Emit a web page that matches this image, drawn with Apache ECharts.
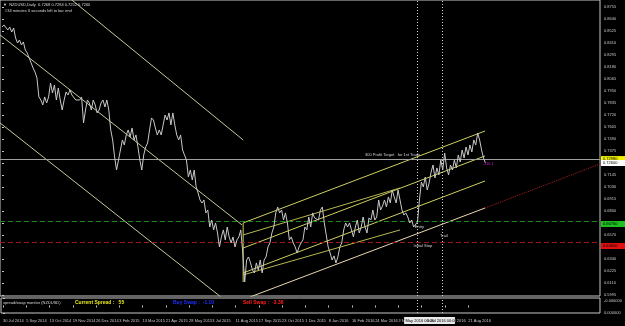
<!DOCTYPE html>
<html><head><meta charset="utf-8">
<script src="https://cdn.jsdelivr.net/npm/echarts@6/dist/echarts.min.js"></script>
<style>html,body{margin:0;padding:0;background:#000;overflow:hidden}#c{width:625px;height:326px}</style>
</head><body><div id="c"></div>
<script>
// ---- data ----
const tickLabels = ["30 Jul 2014","5 Sep 2014","13 Oct 2014","19 Nov 2014","26 Dec 2014","3 Feb 2015","13 Mar 2015","21 Apr 2015","28 May 2015","3 Jul 2015","11 Aug 2015","17 Sep 2015","23 Oct 2015","1 Dec 2015","8 Jan 2016","16 Feb 2016","24 Mar 2016","3 May 2016","9 Jun 2016","15 Jul 2016","21 Aug 2016"];
const closes = [
0.8563,0.8583,0.8583,0.8535,0.8563,0.8515,0.8554,0.8458,0.8410,0.8439,
0.8391,0.8420,0.8343,0.8314,0.8266,0.8219,0.8171,0.8132,0.8075,0.7893,
0.7864,0.7816,0.7893,0.7835,0.7893,0.8027,0.7931,0.8008,0.7864,0.7979,
0.7864,0.7768,0.7864,0.7941,0.7912,0.7960,0.7912,0.7931,0.7864,0.7883,
0.7864,0.7893,0.7644,0.7768,0.7864,0.7835,0.7768,0.7864,0.7816,0.7740,
0.7768,0.7835,0.7864,0.7797,0.7864,0.7768,0.7577,0.7481,0.7318,0.7193,
0.7289,0.7385,0.7481,0.7433,0.7529,0.7577,0.7510,0.7596,0.7481,0.7529,
0.7414,0.7289,0.7193,0.7337,0.7414,0.7452,0.7577,0.7692,0.7672,0.7596,
0.7529,0.7577,0.7529,0.7625,0.7720,0.7672,0.7740,0.7625,0.7740,0.7625,
0.7529,0.7481,0.7529,0.7385,0.7337,0.7289,0.7126,0.7193,0.7098,0.7193,
0.7031,0.6973,0.6906,0.6877,0.6906,0.6782,0.6810,0.6647,0.6714,0.6619,
0.6686,0.6590,0.6456,0.6552,0.6619,0.6523,0.6647,0.6552,0.6494,0.6552,
0.6456,0.6523,0.6552,0.6619,0.6398,0.6120,0.6331,0.6360,0.6303,0.6235,
0.6207,0.6303,0.6235,0.6331,0.6207,0.6331,0.6360,0.6456,0.6494,0.6590,
0.6647,0.6782,0.6839,0.6782,0.6810,0.6714,0.6782,0.6686,0.6523,0.6552,
0.6494,0.6456,0.6398,0.6456,0.6494,0.6523,0.6647,0.6619,0.6743,0.6647,
0.6782,0.6734,0.6743,0.6714,0.6810,0.6839,0.6686,0.6571,0.6456,0.6398,
0.6331,0.6370,0.6303,0.6360,0.6456,0.6494,0.6619,0.6686,0.6647,0.6686,
0.6619,0.6552,0.6647,0.6714,0.6590,0.6647,0.6743,0.6647,0.6590,0.6734,
0.6714,0.6810,0.6714,0.6743,0.6906,0.6810,0.6849,0.6906,0.6839,0.6935,
0.6877,0.7002,0.6935,0.6877,0.7002,0.6906,0.6810,0.6762,0.6782,0.6743,
0.6686,0.6714,0.6647,0.6638,0.6695,0.6906,0.7078,0.7031,0.7126,0.7002,
0.7069,0.7174,0.7241,0.7117,0.7213,0.7146,0.7289,0.7193,0.7356,0.7213,
0.7146,0.7241,0.7193,0.7289,0.7213,0.7337,0.7270,0.7385,0.7308,0.7414,
0.7337,0.7433,0.7366,0.7481,0.7433,0.7548,0.7481,0.7385,0.7308,0.7261];
const priceTicks = [0.8755,0.8640,0.8525,0.8410,0.8295,0.8180,0.8065,0.7950,0.7835,0.7720,0.7605,0.7490,0.7375,0.7260,0.7145,0.7030,0.6915,0.6800,0.6685,0.6570,0.6455,0.6340,0.6225,0.6110,0.5995];
const levels = {target:0.7298, bid:0.7260, entry:0.6676, stop:0.6465};
const vLines = [213.8, 226.6];
const vLineLabels = ["27 May 2016 00:00","6 Jul 2016 00:00"];
// trend line endpoints [barIndex, price]
const lineA = [[-1,0.8487],[123.6,0.6667]];
const lineB = [[29.8,0.8916],[124.2,0.7481]];
const lineC = [[-1,0.7644],[113.4,0.5967]];
const chanU = [[124.2,0.6686],[248.8,0.7567]];
const chanM = [[124.2,0.6446],[248.8,0.7328]];
const chanL = [[124.2,0.6207],[248.8,0.7088]];
const innerU = [[124.2,0.6571],[205,0.7021]];
const innerL = [[124.2,0.6188],[205,0.6619]];
const chanEdge = [[124.2,0.6686],[124.2,0.6120]];
const trail = [[127.8,0.5977],[248.8,0.6829]];
const trailExt = [[248.8,0.6829],[308,0.7251]];

// ---- chart ----
const X_MIN = -1.03, X_MAX = 308.0;
const Y_MIN = 0.5986, Y_MAX = 0.8822;
const STEP = 12;
const F = 'Liberation Sans, Arial, sans-serif';
const tickIdx = tickLabels.map((_, i) => i * STEP);
const chart = echarts.init(document.getElementById('c'));
function seg(d, color, type) {
  return {type:'line', data:d, symbol:'none', silent:true,
    lineStyle:{color:color, width:1, type:type||'solid'}, clip:true, z:3};
}
const option = {
  backgroundColor:'#000',
  animation:false,
  grid:[
    {left:0, right:25, top:0, height:296, show:true, borderColor:'#c8c8c8', borderWidth:1},
    {left:0, right:25, top:298, height:15, show:true, borderColor:'#c8c8c8', borderWidth:1}
  ],
  xAxis:[
    {type:'value', gridIndex:0, min:X_MIN, max:X_MAX, axisLine:{show:false}, axisTick:{show:false}, axisLabel:{show:false}, splitLine:{show:false}},
    {type:'value', gridIndex:1, min:X_MIN, max:X_MAX, axisLine:{show:false}, splitLine:{show:false},
      axisTick:{show:true, length:2, lineStyle:{color:'#c8c8c8'}, customValues:tickIdx},
      axisLabel:{show:true, customValues:tickIdx, formatter:v=>tickLabels[Math.round(v/STEP)]||'', color:'#c8c8c8', fontSize:4, fontFamily:F, align:'left', margin:6}}
  ],
  yAxis:[
    {type:'value', gridIndex:0, position:'right', min:Y_MIN, max:Y_MAX, splitLine:{show:false},
      axisLine:{show:false},
      axisTick:{show:true, length:2, customValues:priceTicks, lineStyle:{color:'#c8c8c8'}},
      axisLabel:{customValues:priceTicks, formatter:v=>v.toFixed(4), color:'#c8c8c8', fontSize:4, fontFamily:F, margin:4}},
    {type:'value', gridIndex:1, position:'right', min:-1, max:1, splitLine:{show:false}, axisLine:{show:false},
      axisTick:{show:true, length:2, customValues:[1,-1], lineStyle:{color:'#c8c8c8'}},
      axisLabel:{customValues:[0.6,-1], formatter:v=>v>0?'-0.000000':'0.000000', color:'#c8c8c8', fontSize:4, fontFamily:F, margin:4}}
  ],
  series:[
    seg(lineA,'#c8c89a'), seg(lineB,'#c8c89a'), seg(lineC,'#c8c89a'),
    seg(chanU,'#d0d060'), seg(chanM,'#d0d060'), seg(chanL,'#d0d060'),
    seg(innerU,'#b8b850'), seg(innerL,'#b8b850'), seg(chanEdge,'#d0d060'),
    seg(trail,'#e8d8b0'), seg(trailExt,'#b02020','dotted'),
    {type:'line', name:'NZDUSD', data:closes.map((p,i)=>[i,p]), symbol:'none', silent:true,
      lineStyle:{color:'#c8c8c8', width:1}, z:5,
      markLine:{symbol:'none', silent:true, label:{show:false}, data:[
        {yAxis:levels.target, lineStyle:{color:'#c8c8c8', type:[5,3], width:1}},
        {yAxis:levels.bid, lineStyle:{color:'#a0a0a0', type:'solid', width:1}},
        {yAxis:levels.entry, lineStyle:{color:'#1c8a1c', type:[5,3], width:1}},
        {yAxis:levels.stop, lineStyle:{color:'#a01818', type:[5,3], width:1}},
        {xAxis:vLines[0], lineStyle:{color:'#d0d0d0', type:[1,2], width:1}},
        {xAxis:vLines[1], lineStyle:{color:'#d0d0d0', type:[1,2], width:1}}
      ]}},
    {type:'line', xAxisIndex:1, yAxisIndex:1, data:[], symbol:'none',
      markLine:{symbol:'none', silent:true, label:{show:false}, data:[
        {xAxis:vLines[0], lineStyle:{color:'#d0d0d0', type:[1,2], width:1}},
        {xAxis:vLines[1], lineStyle:{color:'#d0d0d0', type:[1,2], width:1}}
      ]}}
  ]
};
chart.setOption(option);

const px = (i, p) => chart.convertToPixel({gridIndex:0}, [i, p]);
const g = [];
function tag(v, bg, fg) {
  const y = px(0, v)[1];
  g.push({type:'rect', shape:{x:601, y:y-3, width:24, height:6}, style:{fill:bg}, z:10});
  g.push({type:'text', x:603, y:y, style:{text:v.toFixed(5), fill:fg, font:'4px '+F, verticalAlign:'middle'}, z:11});
}
tag(levels.target, '#f0f000', '#000');
tag(levels.bid, '#ffffff', '#000');
tag(levels.entry, '#1fbf1f', '#000');
tag(levels.stop, '#e01010', '#000');
vLines.forEach((v, k) => {
  const x = px(v, 0.7)[0];
  g.push({type:'rect', shape:{x:x-13, y:317, width:26, height:7}, style:{fill:'#e8e8e8'}, z:10});
  g.push({type:'text', x:x, y:320.5, style:{text:vLineLabels[k], fill:'#000', font:'4px '+F, align:'center', verticalAlign:'middle'}, z:11});
});
function label(i, p, t, color) {
  const q = px(i, p);
  g.push({type:'text', x:q[0], y:q[1], style:{text:t, fill:color, font:'4px '+F, verticalAlign:'middle'}, z:12});
}
label(187, 0.7335, '300 Profit Target   for 1st Trade', '#d0d0d0');
label(212.6, 0.6651, 'Entry', '#d0d0d0');
label(225.6, 0.6565, 'Trail', '#d0d0d0');
label(212, 0.6464, 'Initial Stop', '#d0d0d0');
label(247.6, 0.7250, '-116.1', '#c020c0');
g.push({type:'text', x:3, y:5, style:{text:'\u25BC  NZDUSD,Daily  0.7268 0.7284 0.7252 0.7260', fill:'#d8d8d8', font:'4px '+F, verticalAlign:'middle'}, z:12});
g.push({type:'text', x:5, y:11, style:{text:'#34 minutes 6 seconds left to bar end', fill:'#d8d8d8', font:'4px '+F, verticalAlign:'middle'}, z:12});
g.push({type:'text', x:3, y:303, style:{text:'spread/swap monitor (NZDUSD)', fill:'#d8d8d8', font:'4px '+F, verticalAlign:'middle'}, z:12});
g.push({type:'text', x:75, y:303, style:{text:'Current Spread :   55', fill:'#e8e820', font:'bold 5px '+F, verticalAlign:'middle'}, z:12});
g.push({type:'text', x:173, y:303, style:{text:'Buy Swap :  -1.10', fill:'#2030ff', font:'bold 5px '+F, verticalAlign:'middle'}, z:12});
g.push({type:'text', x:243, y:303, style:{text:'Sell Swap :  -3.36', fill:'#ff2020', font:'bold 5px '+F, verticalAlign:'middle'}, z:12});
chart.setOption({graphic:g});
</script>
</body></html>
